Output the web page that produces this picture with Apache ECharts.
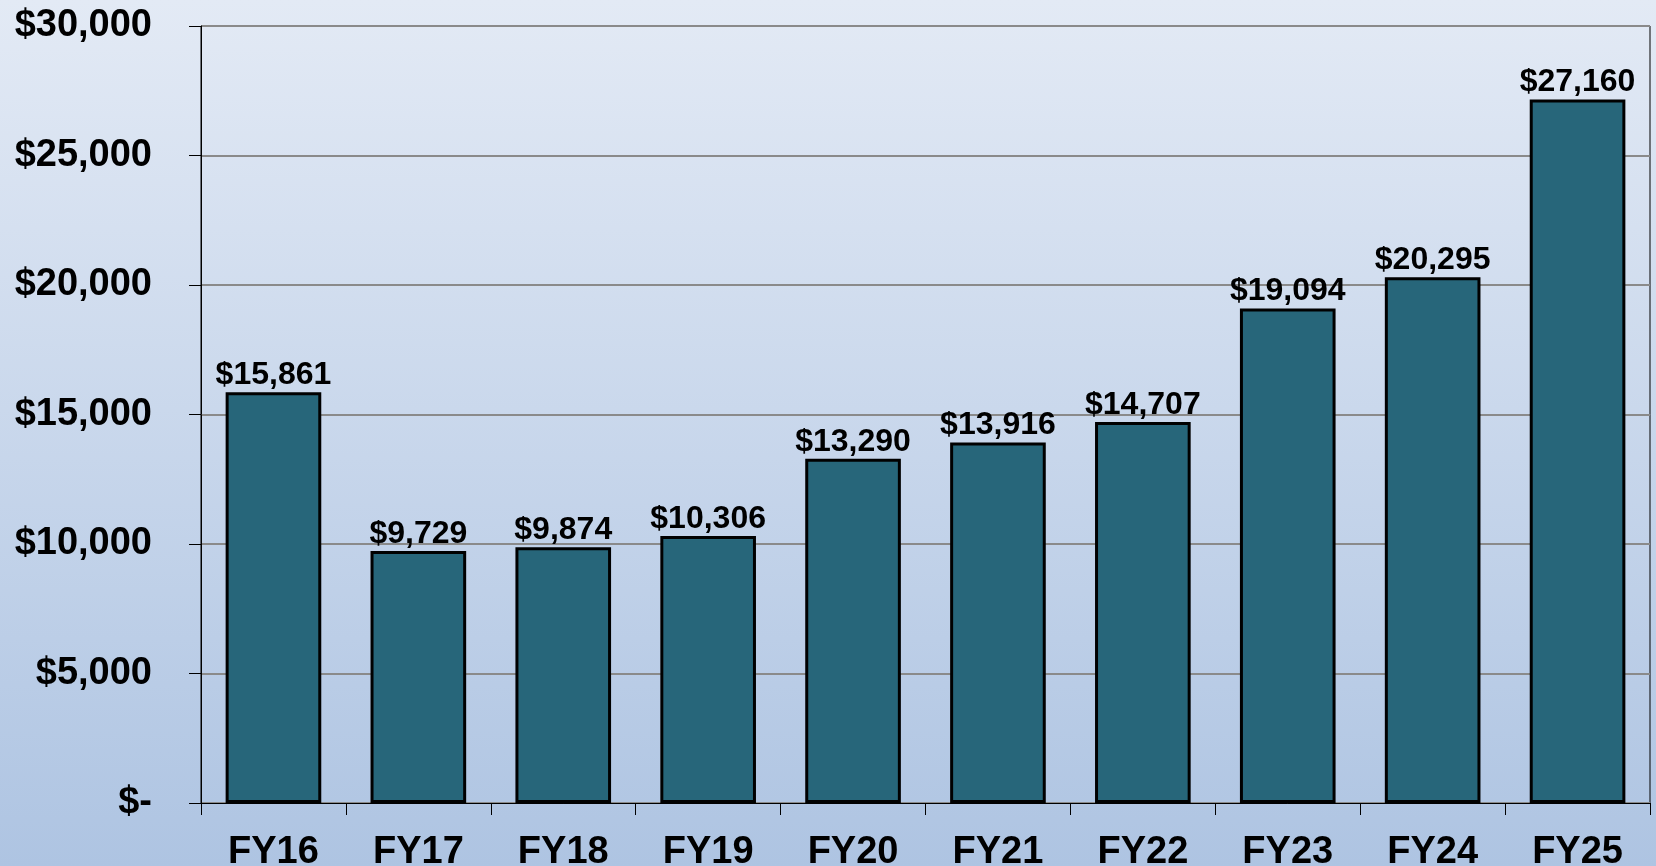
<!DOCTYPE html>
<html>
<head>
<meta charset="utf-8">
<script src="https://cdn.jsdelivr.net/npm/echarts@6/dist/echarts.min.js"></script>
<style>
  html, body { margin: 0; padding: 0; }
  #chart { width: 1656px; height: 866px; }
</style>
</head>
<body>
<div id="chart"></div>
<script>
  var years = ['FY16', 'FY17', 'FY18', 'FY19', 'FY20', 'FY21', 'FY22', 'FY23', 'FY24', 'FY25'];
  var amounts = [15861, 9729, 9874, 10306, 13290, 13916, 14707, 19094, 20295, 27160];

  function money(v) {
    if (v === 0) return '$-';
    return '$' + v.toLocaleString('en-US');
  }

  var myChart = echarts.init(document.getElementById('chart'));
  myChart.setOption({
    animation: false,
    backgroundColor: {
      type: 'linear', x: 0, y: 0, x2: 0, y2: 1,
      colorStops: [
        {offset: 0, color: '#e3eaf5'},
        {offset: 1, color: '#aec4e2'}
      ]
    },
    textStyle: {fontFamily: 'Liberation Sans, Arial, sans-serif'},
    grid: {
      left: 201, right: 6, top: 26, bottom: 63,
      outerBoundsMode: 'none', containLabel: false,
      show: true, borderColor: '#000', borderWidth: 1
    },
    xAxis: {
      type: 'category',
      data: years,
      axisLine: {lineStyle: {color: '#000', width: 1}},
      axisTick: {show: true, length: 12, lineStyle: {color: '#000'}},
      axisLabel: {
        color: '#000', fontSize: 38, fontWeight: 'bold', margin: 31
      }
    },
    yAxis: {
      type: 'value',
      min: 0, max: 30000, interval: 5000,
      axisLine: {show: true, lineStyle: {color: '#000', width: 1}},
      axisTick: {show: true, length: 12, lineStyle: {color: '#000'}},
      splitLine: {lineStyle: {color: '#8a8a8a', width: 2}},
      axisLabel: {
        color: '#000', fontSize: 38, fontWeight: 'bold', margin: 49,
        formatter: money
      }
    },
    series: [{
      type: 'bar',
      data: amounts,
      barWidth: '66%',
      itemStyle: {color: '#27667a', borderColor: '#000', borderWidth: 3},
      label: {
        show: true, position: 'top', distance: 1,
        color: '#000', fontSize: 32, fontWeight: 'bold',
        formatter: function (p) { return money(p.value); }
      }
    }]
  });
</script>
</body>
</html>
